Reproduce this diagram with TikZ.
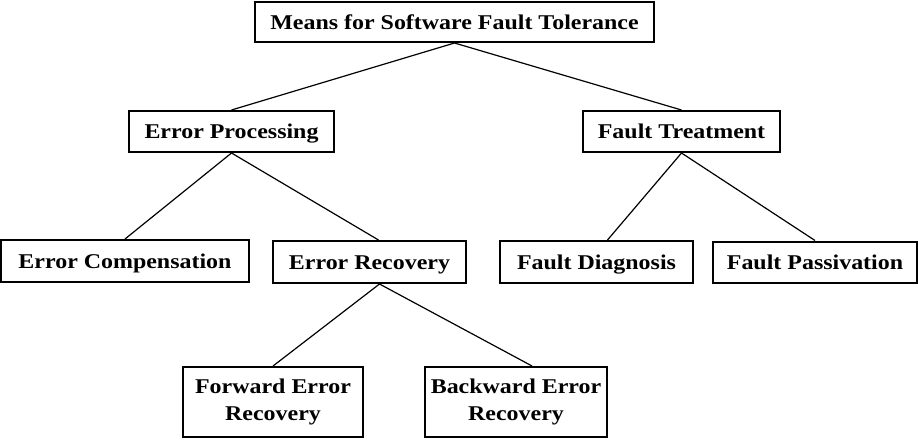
\documentclass[tikz,border=0pt]{standalone}
\usepackage{fontspec}
\setmainfont{Liberation Serif}[FakeStretch=1.14]
\begin{document}
\begin{tikzpicture}[x=1pt,y=-1pt]
    \tikzstyle{boite}=[draw,line width=2pt,inner sep=0pt,minimum height=41pt,font=\fontsize{21}{27}\selectfont\bfseries,align=center]
    \tikzstyle{ligne}=[text height=18pt,text depth=4pt]
    \tikzstyle{lien}=[line width=1.2pt]
    \useasboundingbox (0,0) rectangle (918,439);
    \node[boite,ligne,minimum width=399pt,minimum height=40pt] (1) at (454.5,22) {Means for Software Fault Tolerance};
    \node[boite,ligne,minimum width=205pt] (2) at (231.5,131.5) {Error Processing};
    \node[boite,ligne,minimum width=197pt] (3) at (681.5,131.5) {Fault Treatment};
    \node[boite,ligne,minimum width=248pt,minimum height=42pt] (4) at (125,261) {Error Compensation};
    \node[boite,ligne,minimum width=193pt,minimum height=42pt] (5) at (369.5,262) {Error Recovery};
    \node[boite,ligne,minimum width=193pt,minimum height=42pt] (6) at (596.5,262) {Fault Diagnosis};
    \node[boite,ligne,minimum width=204pt,minimum height=41pt] (7) at (815,262) {Fault Passivation};
    \node[boite,minimum width=180pt,minimum height=70pt] (8) at (273,402) {Forward Error\\Recovery};
    \node[boite,minimum width=182pt,minimum height=70pt] (9) at (516,402) {Backward Error\\Recovery};
    \draw[lien] (1.south) -- (2.north);
    \draw[lien] (1.south) -- (3.north);
    \draw[lien] (2.south) -- (4.north);
    \draw[lien] (2.south) -- ([xshift=9pt]5.north);
    \draw[lien] (3.south) -- ([xshift=11pt]6.north);
    \draw[lien] (3.south) -- (7.north);
    \draw[lien] ([xshift=10pt]5.south) -- (8.north);
    \draw[lien] ([xshift=10pt]5.south) -- ([xshift=16pt]9.north);
\end{tikzpicture}
\end{document}
